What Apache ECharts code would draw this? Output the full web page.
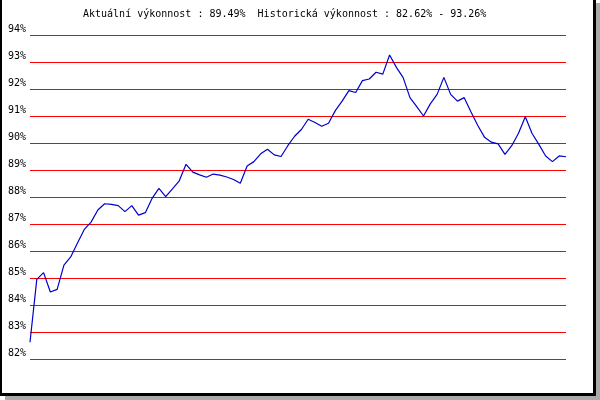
<!DOCTYPE html>
<html><head><meta charset="utf-8">
<script src="https://cdn.jsdelivr.net/npm/echarts@6/dist/echarts.min.js"></script>
<style>html,body{margin:0;padding:0;background:#fff}#c{width:600px;height:400px}</style>
</head><body><div id="c"></div>
<script>
const titleText = 'Aktuální výkonnost : 89.49%  Historická výkonnost : 82.62% - 93.26%';
const yTicks = [82, 83, 84, 85, 86, 87, 88, 89, 90, 91, 92, 93, 94];
const performance = [
  82.62, 84.95, 85.2, 84.48, 84.58, 85.48, 85.78, 86.3, 86.8, 87.07,
  87.52, 87.75, 87.73, 87.68, 87.46, 87.68, 87.33, 87.42, 87.95, 88.32,
  88.01, 88.3, 88.6, 89.21, 88.92, 88.82, 88.73, 88.85, 88.81, 88.74,
  88.65, 88.51, 89.15, 89.31, 89.6, 89.77, 89.56, 89.5, 89.9, 90.25,
  90.5, 90.88, 90.76, 90.62, 90.73, 91.2, 91.55, 91.94, 91.87, 92.31,
  92.37, 92.62, 92.55, 93.26, 92.8, 92.42, 91.68, 91.35, 91.0, 91.45,
  91.8, 92.43, 91.8, 91.55, 91.68, 91.15, 90.65, 90.21, 90.03, 89.97,
  89.58, 89.9, 90.36, 90.97, 90.35, 89.95, 89.52, 89.31, 89.52, 89.49
];
const categories = performance.map((_, i) => String(i + 1));

const chart = echarts.init(document.getElementById('c'), null, {renderer: 'canvas'});
const font = 'DejaVu Sans Mono';
chart.setOption({
  animation: false,
  backgroundColor: '#ffffff',
  title: {
    text: titleText, left: 83, top: 9, padding: 0,
    textStyle: {fontFamily: font, fontSize: 10, fontWeight: 'normal', color: '#000'}
  },
  grid: {left: 30, right: 34, top: 35, bottom: 41, containLabel: false},
  xAxis: {
    type: 'category', data: categories, boundaryGap: false,
    axisLine: {show: false}, axisTick: {show: false}, axisLabel: {show: false}, splitLine: {show: false}
  },
  yAxis: {
    type: 'value', min: yTicks[0], max: yTicks[yTicks.length - 1], interval: 1,
    axisLine: {show: false}, axisTick: {show: false},
    axisLabel: {
      formatter: v => v + '%', fontFamily: font, fontSize: 10, color: '#000',
      margin: 4, verticalAlign: 'bottom', lineHeight: 12
    },
    splitLine: {show: true, lineStyle: {color: '#ff0000', width: 1}}
  },
  series: [{
    type: 'line', data: performance, showSymbol: false,
    lineStyle: {color: '#0000cc', width: 1.2}
  }],
  graphic: [
    {type: 'rect', shape: {x: 596, y: 3, width: 4, height: 397}, style: {fill: '#aaaaaa'}, silent: true},
    {type: 'rect', shape: {x: 5, y: 396, width: 595, height: 4}, style: {fill: '#aaaaaa'}, silent: true},
    {type: 'rect', shape: {x: 0, y: 0, width: 2, height: 396}, style: {fill: '#000'}, silent: true},
    {type: 'rect', shape: {x: 593, y: 0, width: 3, height: 396}, style: {fill: '#000'}, silent: true},
    {type: 'rect', shape: {x: 0, y: 393, width: 596, height: 3}, style: {fill: '#000'}, silent: true}
  ]
});
</script></body></html>
